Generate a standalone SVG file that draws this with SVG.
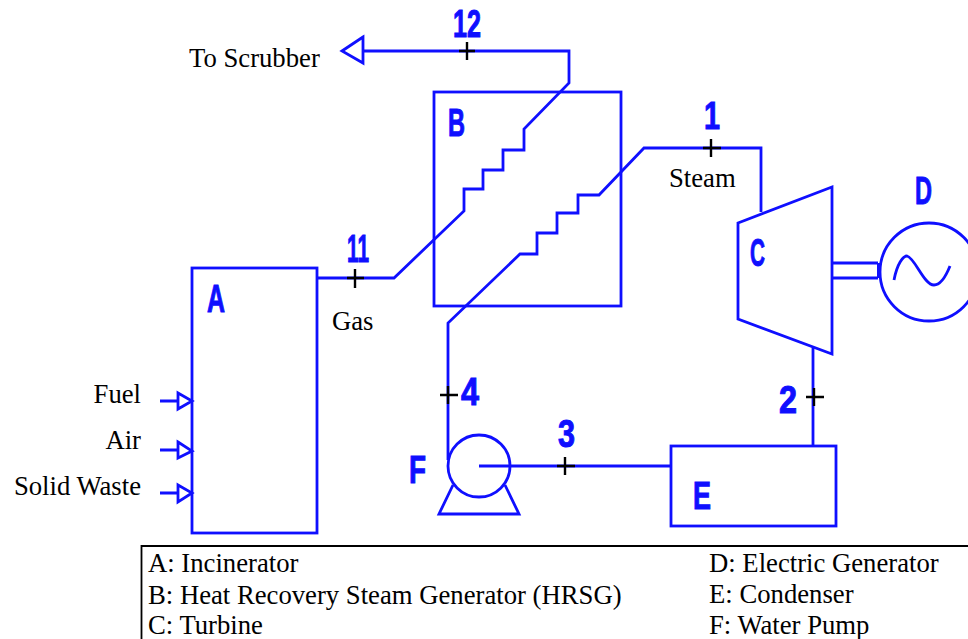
<svg xmlns="http://www.w3.org/2000/svg" width="968" height="639" viewBox="0 0 968 639">
<style>
.b{fill:none;stroke:#0f0fff;stroke-width:2.8;stroke-linejoin:miter}
.k{fill:none;stroke:#000;stroke-width:2.4}
.t{font-family:"Liberation Serif",serif;font-size:26.7px;fill:#000}
.l{font-family:"Liberation Serif",serif;font-size:26.7px;fill:#000;text-anchor:end}
.n{font-family:"Liberation Sans",sans-serif;font-weight:bold;font-size:38px;fill:#0f0fff;stroke:#0f0fff;stroke-width:1}
</style>
<rect width="968" height="639" fill="#fff"/>
<g id="connectors">
<path class="b" d="M363 51H569V83L524 129V150H503V170H483V189H464V211L394 278H317"/>
<path class="b" d="M448 460V323L520 254H537V233H557V213H578V195H599L644 148H761V212"/>
<path class="b" d="M813 348V446"/>
<path class="b" d="M479 466H671"/>
<path class="b" d="M160 401H178M160 450H178M160 493H178"/>
<path class="b" d="M832 263H878M832 278H878"/>
<path class="k" d="M459 51H475M467 42V60M347 278H364M355 269V288M703 148H721M711 139V157M440 395H458M448 386V404M557 466H575M565 457V475M806 397H824M814 388V406"/>
</g>
<g id="to-scrubber"><path class="b" d="M363 37L342 51L363 63Z"/><text class="t" x="189" y="67">To Scrubber</text><text class="n" x="453" y="37" textLength="28" lengthAdjust="spacingAndGlyphs">12</text></g>
<g id="node-a"><rect class="b" x="192" y="268" width="125" height="265"/><text class="n" x="207" y="312" textLength="18" lengthAdjust="spacingAndGlyphs">A</text>
<path class="b" d="M178 393L192 401L178 409ZM178 442L192 451L178 458ZM178 485L192 493L178 502Z"/>
<text class="l" x="141" y="403">Fuel</text><text class="l" x="141" y="449">Air</text><text class="l" x="141" y="495">Solid Waste</text>
<text class="n" x="347" y="262" textLength="22" lengthAdjust="spacingAndGlyphs">11</text><text class="t" x="332" y="330">Gas</text></g>
<g id="node-b"><rect class="b" x="434" y="92" width="187" height="214"/><text class="n" x="448" y="136" textLength="17" lengthAdjust="spacingAndGlyphs">B</text></g>
<g id="node-c"><path class="b" d="M738 223L832 187V354L738 319Z"/><text class="n" x="750" y="266" textLength="15" lengthAdjust="spacingAndGlyphs">C</text>
<text class="n" x="704" y="129" textLength="16" lengthAdjust="spacingAndGlyphs">1</text><text class="t" x="669" y="187">Steam</text></g>
<g id="node-d"><circle class="b" cx="929" cy="272" r="49"/><path class="b" d="M894 280C897 264 903 256 907 256C915 258 924 285 934 285C941 285 946 276 950 266"/><path d="M877 263H881V278H877Z" fill="#0f0fff"/><text class="n" x="915" y="204" textLength="17" lengthAdjust="spacingAndGlyphs">D</text></g>
<g id="node-e"><rect class="b" x="671" y="446" width="165" height="80"/><text class="n" x="693" y="509" textLength="18" lengthAdjust="spacingAndGlyphs">E</text>
<text class="n" x="779" y="413" textLength="18" lengthAdjust="spacingAndGlyphs">2</text></g>
<g id="node-f"><circle class="b" cx="479" cy="466" r="31"/><path class="b" d="M453 485L439 514H519L505 485"/><text class="n" x="409" y="483" textLength="17" lengthAdjust="spacingAndGlyphs">F</text>
<text class="n" x="461" y="405" textLength="18" lengthAdjust="spacingAndGlyphs">4</text><text class="n" x="558" y="447" textLength="17" lengthAdjust="spacingAndGlyphs">3</text></g>
<g id="legend"><path fill="none" stroke="#000" stroke-width="1.8" d="M968 546H141.500V639"/>
<text class="t" x="148" y="572">A: Incinerator</text><text class="t" x="148" y="604">B: Heat Recovery Steam Generator (HRSG)</text><text class="t" x="148" y="634">C: Turbine</text>
<text class="t" x="709" y="572">D: Electric Generator</text><text class="t" x="709" y="603">E: Condenser</text><text class="t" x="709" y="634">F: Water Pump</text></g>
</svg>
